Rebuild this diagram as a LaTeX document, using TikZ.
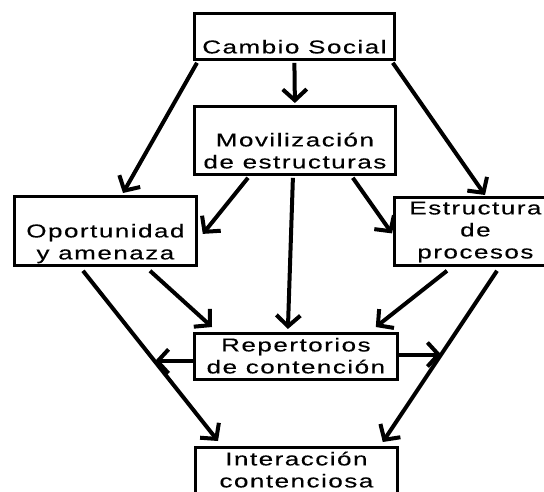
\documentclass[tikz,border=0pt]{standalone}
\usepackage{fontspec}
\newfontfamily\cajafont[FakeStretch=1.4,LetterSpace=8,FakeBold=0.3]{Liberation Sans}
\usetikzlibrary{arrows.meta,calc}
\newcommand\renglones[1]{\begin{tabular}[b]{@{}c@{}}#1\end{tabular}}

\begin{document}
\begin{tikzpicture}[x=1pt,y=-1pt,
  caja/.style={draw,line width=2.8pt,anchor=north west,inner sep=0pt,
    font=\cajafont\fontsize{18.6}{22}\selectfont,text depth=6pt},
  flecha/.style={-{Straight Barb[length=11pt,width=24pt]},line width=4pt}]
\useasboundingbox (0,0) rectangle (544,491);
\clip (0,0) rectangle (544,491);
\node[caja,minimum width=200pt,text height=40pt] (cambio) at (193,12) {Cambio Social};
\node[caja,minimum width=201pt,text height=62pt] (movil) at (193,105) {\renglones{Movilización\\de estructuras}};
\node[caja,minimum width=182pt,text height=63pt] (oport) at (13,195) {\renglones{Oportunidad\\y amenaza}};
\node[caja,minimum width=162pt,text height=61pt,text depth=7pt] (estruc) at (393,196) {\renglones{Estructura\\de\\procesos}};
\node[caja,minimum width=203pt,text height=40pt] (reper) at (193,332) {\renglones{Repertorios\\de contención}};
\node[caja,minimum width=202pt,text height=40pt] (inter) at (194,446) {\renglones{Interacción\\contenciosa}};
%\pgfsetlinewidth{3pt}
\draw[flecha] ($(cambio.south)+(0,2)$) -- ($(movil.north)+(0,-2)$);
\draw[flecha] ($(cambio.south west)+(4,2)$) -- ($(oport.north west)+(110,-2)$);
\draw[flecha] ($(cambio.south east)+(-3,2)$) -- ($(estruc.north west)+(92,-1)$);
\draw[flecha] ($(movil.south west)+(55,2)$) -- ($(oport.east)+(5,3)$);
\draw[flecha] ($(movil.south)+(-2,2)$) -- ($(reper.north)+(-8,-3)$);
\draw[flecha] ($(movil.south east)+(-44,2)$) -- ($(estruc.west)+(-1,2)$);
\draw[flecha] ($(oport.south west)+(70,4)$) -- ($(inter.north west)+(24,-5)$) coordinate[pos=0.532] (izq);
\draw[flecha] ($(oport.south west)+(137,4)$) -- ($(reper.north west)+(19,-5)$);
\draw[flecha] ($(estruc.south west)+(54,4)$) -- ($(reper.north east)+(-23,-5)$);
\draw[flecha] ($(estruc.south west)+(104,4)$) -- ($(inter.north east)+(-16,-4)$) coordinate[pos=0.489] (der);
\draw[flecha] (reper.west |- izq) -- (izq);
\draw[flecha] (reper.east |- der) -- (der);
\end{tikzpicture}
\end{document}
